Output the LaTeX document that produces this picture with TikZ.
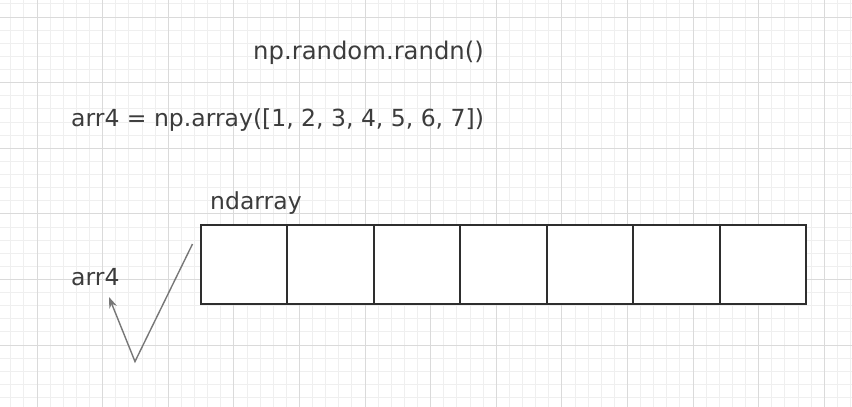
\documentclass[tikz,border=0pt]{standalone}
\usepackage{fontspec}
\setmainfont{DejaVu Sans}
\usepackage{xcolor}
\usepackage{tikz}
\usetikzlibrary{positioning,calc,arrows.meta}

\definecolor{minorgray}{HTML}{EFEFEF}
\definecolor{majorgray}{HTML}{DADADA}
\definecolor{textgray}{HTML}{3C3C3C}
\definecolor{linegray}{HTML}{777777}
\definecolor{boxgray}{HTML}{2E2E2E}

\tikzset{
    label/.style={anchor=base west, inner sep=0pt, text=textgray, font=\fontsize{23.5}{28}\selectfont},
    cell/.style={draw=boxgray, line width=2pt, fill=white, minimum width=86.43pt, minimum height=79pt, inner sep=0pt, outer sep=0pt},
    pointer/.style={draw=linegray, line width=1.4pt, -{Stealth[length=11pt,width=8pt]}}
}

\begin{document}
\begin{tikzpicture}[x=1pt,y=-1pt]
    \useasboundingbox (0,0) rectangle (852,407);
    \fill[white] (0,0) rectangle (852,407);
    \begin{scope}
        \clip (0,0) rectangle (852,407);
        \foreach \i in {-2,...,62} \draw[minorgray, line width=0.8pt] ({37+13.12*\i},0) -- ({37+13.12*\i},407);
        \foreach \i in {-1,...,30} \draw[minorgray, line width=0.8pt] (0,{17+13.12*\i}) -- (852,{17+13.12*\i});
        \foreach \i in {0,...,12} \draw[majorgray, line width=0.8pt] ({37+65.6*\i},0) -- ({37+65.6*\i},407);
        \foreach \i in {0,...,6} \draw[majorgray, line width=0.8pt] (0,{17+65.6*\i}) -- (852,{17+65.6*\i});
    \end{scope}

    \node[label, font=\fontsize{24.3}{29}\selectfont] (randn) at (253,59) {np.random.randn()};
    \node[label] (arrdef) at (71,126) {arr4 = np.array([1, 2, 3, 4, 5, 6, 7])};

    % the seven cells of the ndarray
    \node[cell, anchor=north west] (c1) at (201,224.5) {};
    \foreach \i [count=\j from 1] in {2,...,7}
        \node[cell, right=0pt of c\j] (c\i) {};

    \node[label] (nd) at (210,209) {ndarray};
    \node[label] (name) at (71,285.5) {arr4};

    \coordinate (ptop) at (192.5,244);
    \coordinate (pbot) at (135,361.5);
    \coordinate (ptip) at (109,297);
    \draw[pointer] (ptop) -- (pbot) -- (ptip);
\end{tikzpicture}
\end{document}
